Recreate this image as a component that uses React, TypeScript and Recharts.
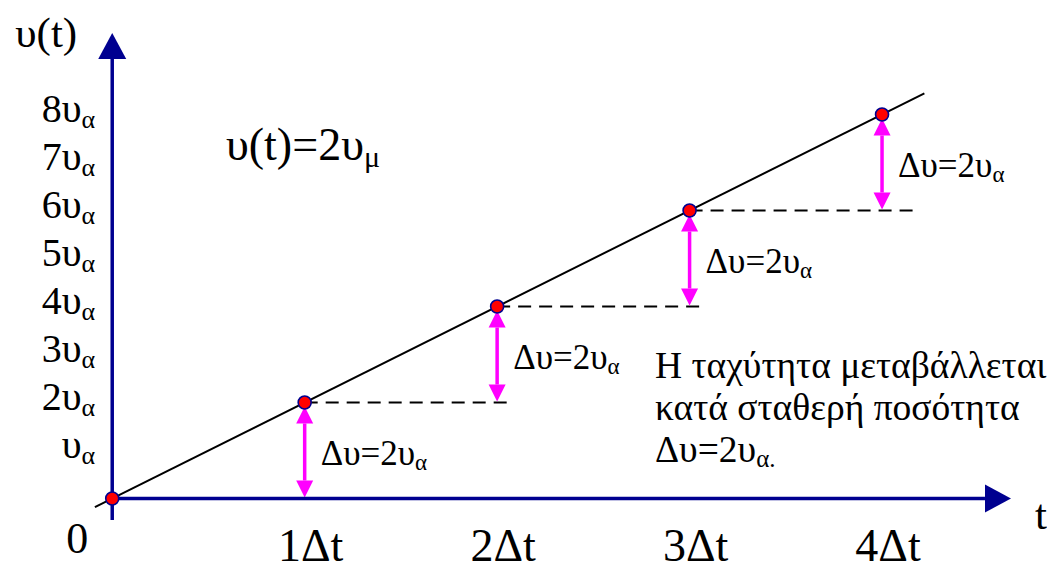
import { ComposedChart, Line, Scatter, XAxis, YAxis, ReferenceLine, ReferenceDot } from 'recharts';

// points on the line v(t) = 2 v_mu * t  (units: Δt, υα)
const pointT = [0, 1, 2, 3, 4];
const pointV = [0, 2, 4, 6, 8];

// ends of the drawn straight line
const lineT = [-0.09, 4.22];
const lineV = [-0.18, 8.44];

// dashed guides: from each point to this t
const dashEndT = [2.07, 3.07, 4.2];

const xTicks = [1, 2, 3, 4];
const xTickLabels = ['1Δt', '2Δt', '3Δt', '4Δt'];
const yTicks = [1, 2, 3, 4, 5, 6, 7, 8];
const yTickLabels = ['υ', '2υ', '3υ', '4υ', '5υ', '6υ', '7υ', '8υ'];

const deltaLabel = 'Δυ=2υ';
const noteLines = ['Η ταχύτητα μεταβάλλεται', 'κατά σταθερή ποσότητα'];

const points = pointT.map((t, i) => ({ t, v: pointV[i] }));
const lineData = lineT.map((t, i) => ({ t, v: lineV[i] }));

const SERIF = 'Liberation Serif';
const NAVY = '#000090';
const MAGENTA = '#ff00ff';

function arrowHead(x: number, y: number, ang: number, len: number, half: number) {
  const c = Math.cos(ang);
  const s = Math.sin(ang);
  const bx = x - len * c;
  const by = y - len * s;
  return {
    bx,
    by,
    pts: `${x},${y} ${bx - half * s},${by + half * c} ${bx + half * s},${by - half * c}`,
  };
}

// axis with arrow at the far end + the axis name
const axisShape = (name: string, dx: number, dy: number) => (p: any) => {
  const { x1, y1, x2, y2 } = p;
  const ang = Math.atan2(y2 - y1, x2 - x1);
  const h = arrowHead(x2, y2, ang, 26, 14);
  return (
    <g>
      <line x1={x1} y1={y1} x2={h.bx} y2={h.by} stroke={NAVY} strokeWidth={3.5} />
      <polygon points={h.pts} fill={NAVY} />
      <text x={x2 + dx} y={y2 + dy} fontFamily={SERIF} fontSize={43} textAnchor="middle" fill="#000">
        {name}
      </text>
    </g>
  );
};

// magenta double arrow + Δυ label
const deltaShape = (p: any) => {
  const { x1, y1, x2, y2 } = p;
  const yb = Math.max(y1, y2) - 1;
  const yt = Math.min(y1, y2) + 4;
  const top = arrowHead(x1, yt, -Math.PI / 2, 17, 8.5);
  const bot = arrowHead(x1, yb, Math.PI / 2, 17, 8.5);
  const mid = (yb + yt) / 2;
  return (
    <g>
      <line x1={x1} y1={top.by} x2={x1} y2={bot.by} stroke={MAGENTA} strokeWidth={3.5} />
      <polygon points={top.pts} fill={MAGENTA} />
      <polygon points={bot.pts} fill={MAGENTA} />
      <text x={x1 + 16} y={mid + 13} fontFamily={SERIF} fontSize={35} fill="#000">
        {deltaLabel}
        <tspan fontSize={23} dy={5}>α</tspan>
      </text>
    </g>
  );
};

const dotShape = (p: any) => (
  <circle cx={p.cx} cy={p.cy} r={6.5} fill="#ff0000" stroke={NAVY} strokeWidth={1.6} />
);

export default function App() {
  return (
    <div style={{ position: 'absolute', left: 0, top: 0, width: 1047, height: 570, background: '#fff', fontFamily: SERIF }}>
      <ComposedChart width={1047} height={570} margin={{ top: 18.5, right: 11, bottom: 23.5, left: 16 }}>
        <XAxis type="number" dataKey="t" domain={[-0.5, 4.8]} hide allowDataOverflow />
        <YAxis type="number" dataKey="v" domain={[-1, 10]} hide allowDataOverflow />

        <Line data={lineData} dataKey="v" stroke="#000" strokeWidth={2} dot={false} isAnimationActive={false} />

        {dashEndT.map((end, i) => (
          <ReferenceLine
            key={`d${i}`}
            segment={[{ x: pointT[i + 1], y: pointV[i + 1] }, { x: end, y: pointV[i + 1] }]}
            stroke="#000"
            strokeWidth={1.8}
            strokeDasharray="13 8"
          />
        ))}

        {pointT.slice(1).map((t, i) => (
          <ReferenceLine
            key={`a${i}`}
            segment={[{ x: t, y: pointV[i] }, { x: t, y: pointV[i + 1] }]}
            shape={deltaShape}
          />
        ))}

        <ReferenceLine segment={[{ x: 0, y: -0.45 }, { x: 0, y: 9.7 }]} shape={axisShape('υ(t)', -66, 14)} />
        <ReferenceLine segment={[{ x: 0, y: 0 }, { x: 4.67, y: 0 }]} shape={axisShape('t', 30, 30)} />

        {xTicks.map((t, i) => (
          <ReferenceDot
            key={`xt${i}`}
            x={t}
            y={0}
            r={0}
            shape={(p: any) => (
              <text x={p.cx + 6} y={p.cy + 62} fontFamily={SERIF} fontSize={46} textAnchor="middle" fill="#000">
                {xTickLabels[i]}
              </text>
            )}
          />
        ))}
        <ReferenceDot
          x={0}
          y={0}
          r={0}
          shape={(p: any) => (
            <text x={p.cx - 35} y={p.cy + 54} fontFamily={SERIF} fontSize={44} textAnchor="middle" fill="#000">
              0
            </text>
          )}
        />
        {yTicks.map((v, i) => (
          <ReferenceDot
            key={`yt${i}`}
            x={0}
            y={v}
            r={0}
            shape={(p: any) => (
              <text x={p.cx - 17} y={p.cy + 7} fontFamily={SERIF} fontSize={40} textAnchor="end" fill="#000">
                {yTickLabels[i]}
                <tspan fontSize={26} dy={6}>α</tspan>
              </text>
            )}
          />
        ))}

        <text x={226} y={160} fontFamily={SERIF} fontSize={46} fill="#000">
          υ(t)=2υ<tspan fontSize={30} dy={7}>μ</tspan>
        </text>
        <text x={655} y={378} fontFamily={SERIF} fontSize={37.5} fill="#000">
          {noteLines[0]}
        </text>
        <text x={655} y={420} fontFamily={SERIF} fontSize={37.5} fill="#000">
          {noteLines[1]}
        </text>
        <text x={655} y={462} fontFamily={SERIF} fontSize={37.5} fill="#000">
          Δυ=2υ<tspan fontSize={25} dy={5}>α.</tspan>
        </text>

        <Scatter data={points} dataKey="v" shape={dotShape} isAnimationActive={false} />
      </ComposedChart>
    </div>
  );
}
